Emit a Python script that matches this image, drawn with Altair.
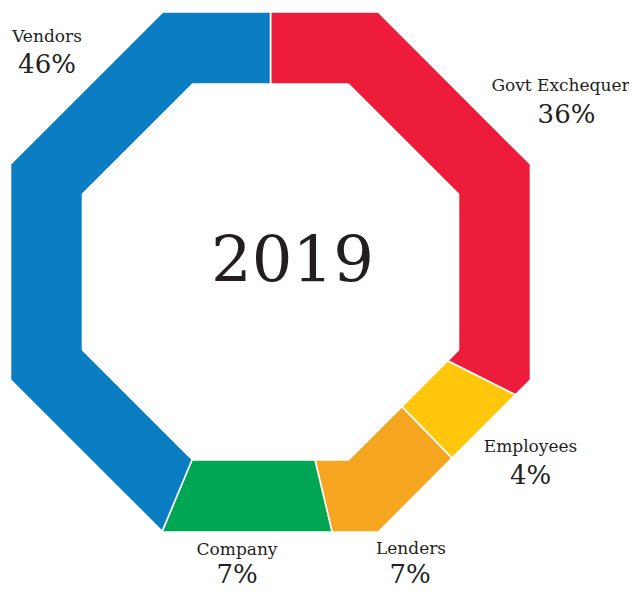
import altair as alt
import numpy as np
import pandas as pd

# ---- data ----
categories = ["Govt Exchequer", "Employees", "Lenders", "Company", "Vendors"]
# share of the ring as drawn (% of the full turn, clockwise from 12 o'clock)
shares = [32.4, 5.3, 8.6, 10.0, 43.7]
pct_labels = ["36%", "4%", "7%", "7%", "46%"]
year = "2019"

# ---- styles / layout ----
colors = ["#ED1C3A", "#FFC60B", "#F6A520", "#00A651", "#0A7DC3"]
R_OUT, R_IN = 260, 188
label_pos = {  # (name x, name baseline, pct x, pct baseline) relative to ring centre, y up
    "Govt Exchequer": (290, 181, 296, 149),
    "Employees": (260, -180, 260, -212),
    "Lenders": (140.5, -282, 139.5, -311),
    "Company": (-33.5, -283, -33.5, -311),
    "Vendors": (-223.5, 230, -223.5, 199),
}
FONT = "DejaVu Serif"
TXT = "#231F20"


def oct_pt(theta_deg, r):
    k = round(theta_deg / 45.0)
    d = r / np.cos(np.radians(theta_deg - 45.0 * k))
    t = np.radians(theta_deg)
    return [float(d * np.sin(t)), float(d * np.cos(t))]


def segment(a0, a1):
    angs = [a0] + [float(v) for v in np.arange(22.5, 360, 45) if a0 < v < a1] + [a1]
    outer = [oct_pt(a, R_OUT) for a in angs]
    inner = [oct_pt(a, R_IN) for a in reversed(angs)]
    return outer + inner + [outer[0]]


cum = np.concatenate([[0.0], np.cumsum(shares)]) * 3.6
features = []
for i, c in enumerate(categories):
    features.append({
        "type": "Feature",
        "properties": {"name": c},
        "geometry": {"type": "Polygon", "coordinates": [segment(cum[i], cum[i + 1])]},
    })

proj = dict(type="identity", reflectY=True, scale=1, translate=[262.5, 264])

ring = alt.Chart(alt.Data(values=features)).mark_geoshape(
    stroke="white", strokeWidth=1.6, strokeJoin="bevel"
).encode(
    color=alt.Color("properties.name:N",
                    scale=alt.Scale(domain=categories, range=colors), legend=None)
).project(**proj)

names_df = pd.DataFrame({
    "lon": [label_pos[c][0] for c in categories],
    "lat": [label_pos[c][1] for c in categories],
    "text": categories,
})
pct_df = pd.DataFrame({
    "lon": [label_pos[c][2] for c in categories],
    "lat": [label_pos[c][3] for c in categories],
    "text": pct_labels,
})
year_df = pd.DataFrame({"lon": [22], "lat": [-10], "text": [year]})

names = alt.Chart(names_df).mark_text(
    font=FONT, fontSize=17, color=TXT, align="center", baseline="alphabetic"
).encode(longitude="lon:Q", latitude="lat:Q", text="text:N").project(**proj)

pcts = alt.Chart(pct_df).mark_text(
    font=FONT, fontSize=26, color=TXT, align="center", baseline="alphabetic"
).encode(longitude="lon:Q", latitude="lat:Q", text="text:N").project(**proj)

yr = alt.Chart(year_df).mark_text(
    font=FONT, fontSize=64, color=TXT, align="center", baseline="alphabetic"
).encode(longitude="lon:Q", latitude="lat:Q", text="text:N").project(**proj)

chart = alt.layer(ring, names, pcts, yr).properties(
    width=621, height=582, padding=0, autosize=alt.AutoSizeParams(type="none")
).configure_view(stroke=None)

chart.save("out.html", embed_options={"renderer": "svg", "actions": False})
